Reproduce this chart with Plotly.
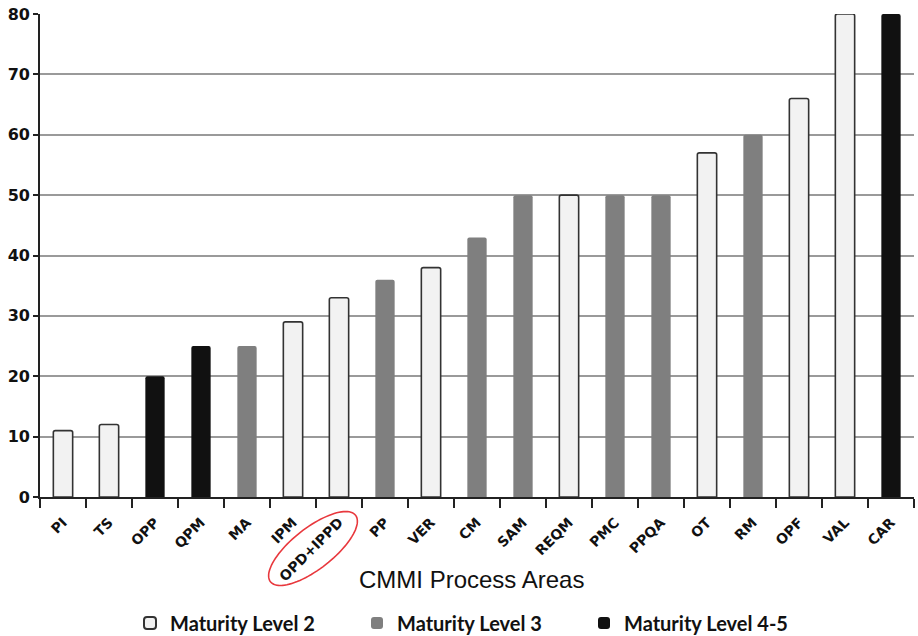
import numpy as np
import plotly.graph_objects as go

# CMMI process areas, sorted by count
areas = ["PI", "TS", "OPP", "QPM", "MA", "IPM", "OPD+IPPD", "PP", "VER", "CM",
         "SAM", "REQM", "PMC", "PPQA", "OT", "RM", "OPF", "VAL", "CAR"]
counts = [11, 12, 20, 25, 25, 29, 33, 36, 38, 43, 50, 50, 50, 50, 57, 60, 66, 80, 80]
levels = ["2", "2", "4-5", "4-5", "3", "2", "2", "3", "2", "3",
          "3", "2", "3", "3", "2", "3", "2", "2", "4-5"]

level_names = ["2", "3", "4-5"]
level_fill = {"2": "#f2f2f2", "3": "#7f7f7f", "4-5": "#111111"}
level_line = {"2": "#333333", "3": "#7f7f7f", "4-5": "#111111"}
level_lw = {"2": 1.6, "3": 0, "4-5": 0}

W, H = 918, 636
ML, MR, MT, MB = 40, 4, 14, 139
PW, PH = W - ML - MR, H - MT - MB


def to_paper(px, py):
    """Convert page pixel positions to paper fractions."""
    return (np.asarray(px) - ML) / PW, 1 - (np.asarray(py) - MT) / PH


fig = go.Figure()
for lv in level_names:
    xs = [a for a, l in zip(areas, levels) if l == lv]
    ys = [c for c, l in zip(counts, levels) if l == lv]
    fig.add_trace(go.Bar(
        x=xs, y=ys, name=f"Maturity Level {lv}",
        width=0.42,
        marker=dict(color=level_fill[lv],
                    line=dict(color=level_line[lv], width=level_lw[lv])),
    ))

# Highlight ellipse around the OPD+IPPD label
cx, cy, a, b, ang = 313, 548.5, 54, 20.5, np.deg2rad(-38)
t = np.linspace(0, 2 * np.pi, 97)
px = cx + a * np.cos(t) * np.cos(ang) - b * np.sin(t) * np.sin(ang)
py = cy + a * np.cos(t) * np.sin(ang) + b * np.sin(t) * np.cos(ang)
fx, fy = to_paper(px, py)
path = "M " + " L ".join(f"{x:.4f},{y:.4f}" for x, y in zip(fx, fy)) + " Z"
fig.add_shape(type="path", path=path, xref="paper", yref="paper",
              line=dict(color="#e8383d", width=1.6), fillcolor="rgba(0,0,0,0)")

# Axis title
tx, ty = to_paper(471, 579)
fig.add_annotation(text="CMMI Process Areas", xref="paper", yref="paper",
                   x=float(tx), y=float(ty), xanchor="center", yanchor="middle",
                   showarrow=False,
                   font=dict(family="Liberation Sans", size=24, color="#111111"))

fig.update_layout(
    width=W, height=H,
    margin=dict(l=ML, r=MR, t=MT, b=MB, autoexpand=False),
    paper_bgcolor="white", plot_bgcolor="white",
    barmode="overlay",
    barcornerradius=2,
    showlegend=True,
    legend=dict(orientation="h", xref="container", x=130 / W, xanchor="left",
                yref="container", y=1 - 623 / H, yanchor="middle",
                font=dict(family="Lato", size=20, color="#111111", weight="bold"),
                entrywidth=182, itemsizing="constant"),
    xaxis=dict(
        categoryorder="array", categoryarray=areas,
        tickangle=-45, tickson="boundaries",
        ticks="outside", ticklen=9, tickwidth=1.5, tickcolor="#222222",
        ticklabelstandoff=10,
        showline=True, linecolor="#222222", linewidth=1.8,
        showgrid=False, automargin=False,
        tickfont=dict(family="DejaVu Sans", size=14, color="#111111", weight="bold"),
        range=[-0.5, len(areas) - 0.5],
    ),
    yaxis=dict(
        range=[0, 80], dtick=10,
        ticks="outside", ticklen=5, tickwidth=1.5, tickcolor="#222222",
        showline=True, linecolor="#222222", linewidth=1.8,
        showgrid=True, gridcolor="#9a9a9a", gridwidth=1.5,
        zeroline=False, automargin=False,
        tickfont=dict(family="DejaVu Sans", size=16, color="#111111", weight="bold"),
    ),
)

fig.write_html("out.html")
